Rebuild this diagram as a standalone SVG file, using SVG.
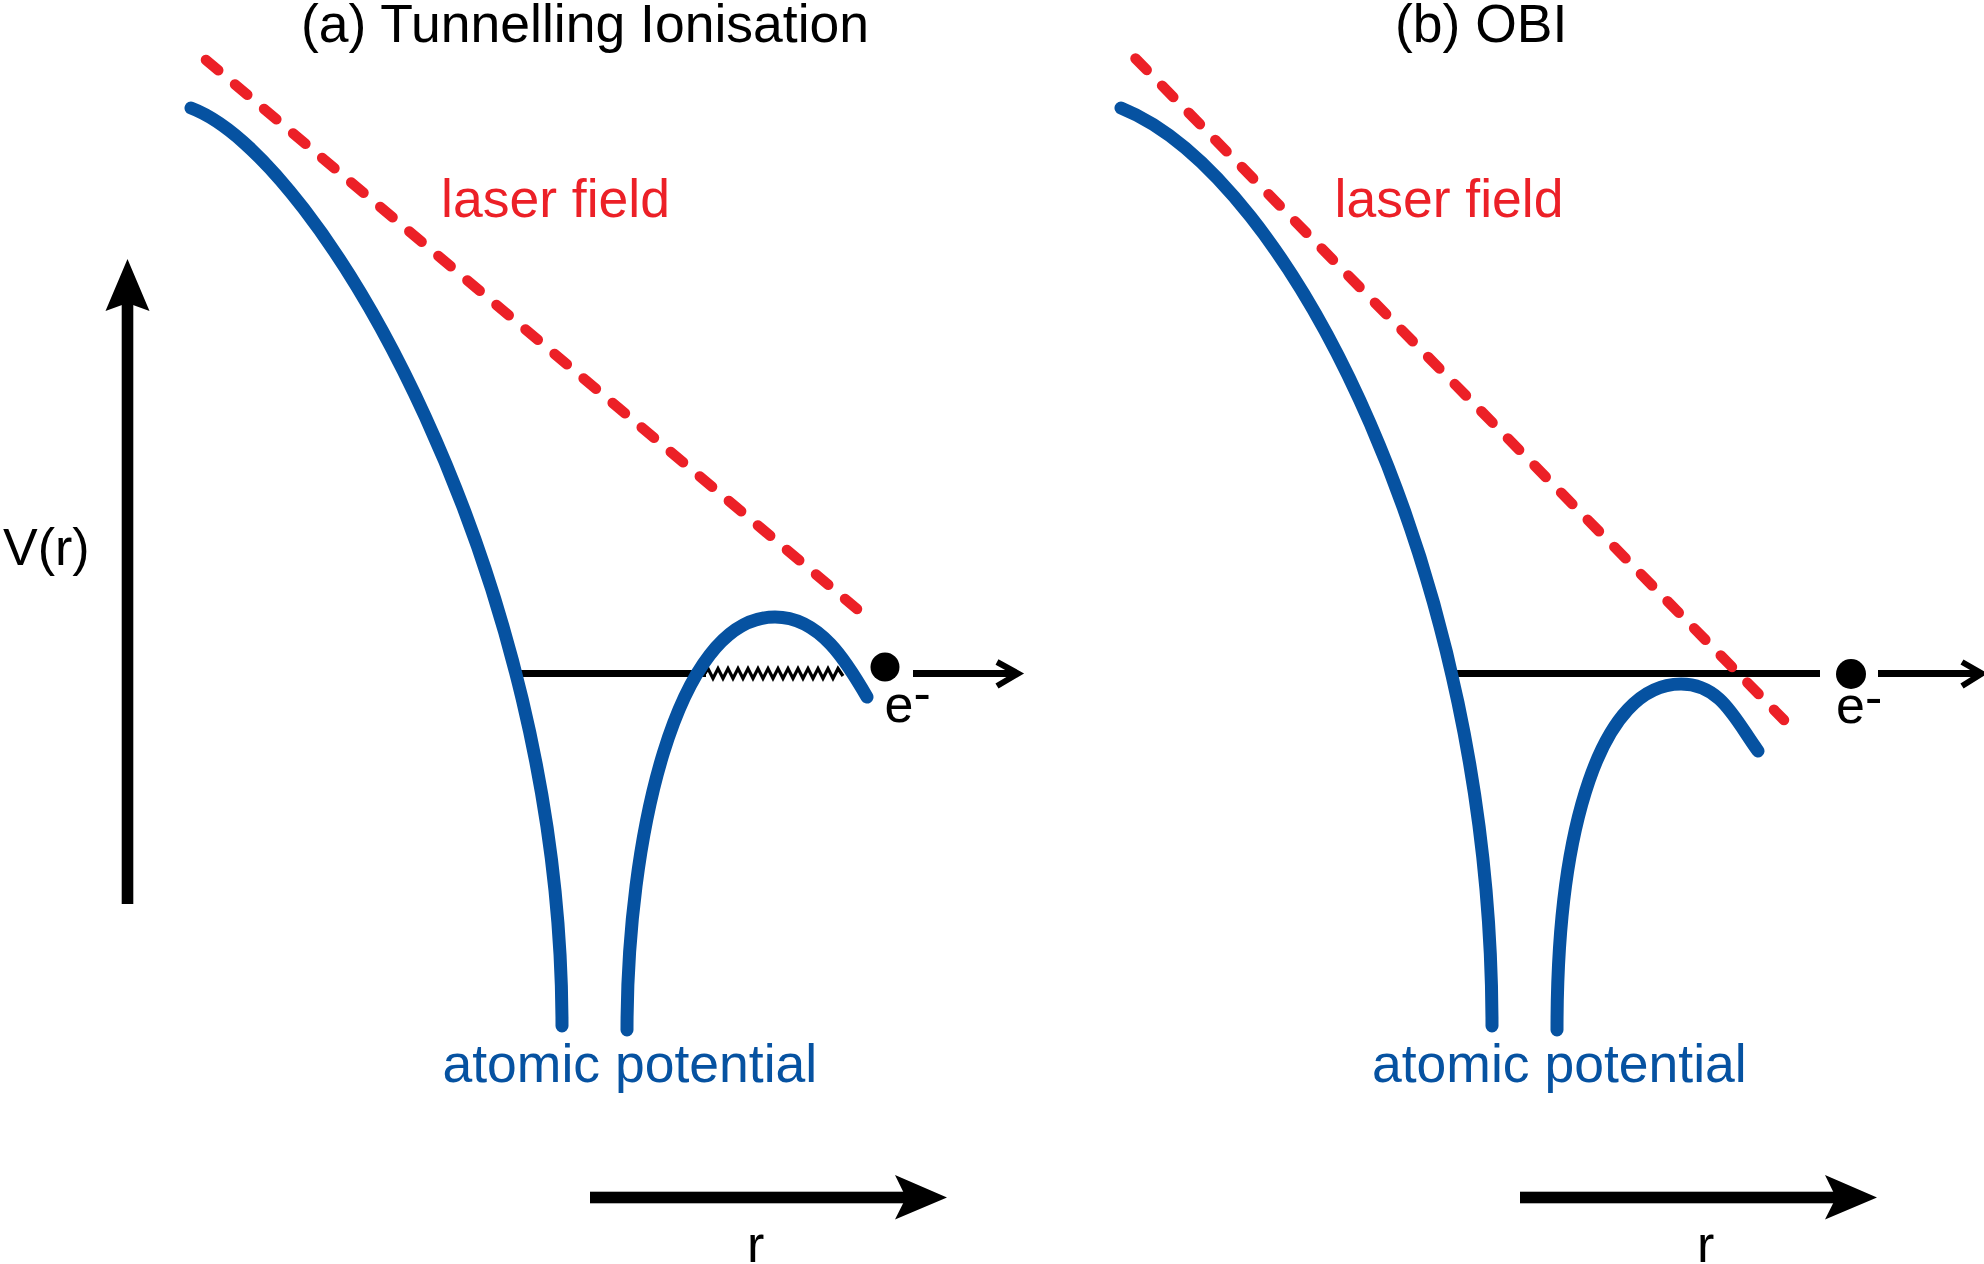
<svg xmlns="http://www.w3.org/2000/svg" width="1984" height="1264" viewBox="0 0 1984 1264">
<style>
text{font-family:"Liberation Sans",Arial,Helvetica,sans-serif;font-size:52px}
.lab{font-size:53.5px}
.k{fill:#000}
.bt{fill:#0652A1}
.rt{fill:#EC2027}
.pot{fill:none;stroke:#0652A1;stroke-width:13;stroke-linecap:round;stroke-linejoin:round}
.las{fill:none;stroke:#EC2027;stroke-width:10.5;stroke-linecap:round;stroke-dasharray:16 22}
.lvl{fill:none;stroke:#000;stroke-width:7}
.zz{fill:none;stroke:#000;stroke-width:3.2;stroke-linejoin:miter}
.chev{fill:none;stroke:#000;stroke-width:6;stroke-linejoin:miter}
</style>
<rect width="1984" height="1264" fill="#fff"/>

<g id="axis-V">
<rect x="121.7" y="300" width="11.6" height="604" class="k"/>
<polygon points="127.5,259 149.5,311 127.5,303 105.5,311" class="k"/>
<text x="3" y="565" class="k">V(r)</text>
</g>

<g id="panel-a">
<text id="title-a" x="301" y="42" class="k lab">(a) Tunnelling Ionisation</text>
<g id="level-a">
<line x1="517" y1="673.5" x2="706" y2="673.5" class="lvl"/>
<polyline class="zz" points="705,673.5 708,668.5 713,678.5 718,668.5 723,678.5 728,668.5 733,678.5 738,668.5 743,678.5 748,668.5 753,678.5 758,668.5 763,678.5 768,668.5 773,678.5 778,668.5 783,678.5 788,668.5 793,678.5 798,668.5 803,678.5 808,668.5 813,678.5 818,668.5 823,678.5 828,668.5 833,678.5 838,668.5 843,676"/>
</g>
<g id="potential-a">
<path class="pot" d="M191,108 C321,157 562,576 562,1026"/>
<path class="pot" d="M627,1030 C627,841 675,617 775,617 C820,617 847,662.4 867,697"/>
<text x="442.5" y="1082" class="bt lab">atomic potential</text>
</g>
<g id="laser-a">
<path class="las" d="M206,60 L857,609"/>
<text x="441" y="217" class="rt lab">laser field</text>
</g>
<g id="electron-a">
<circle cx="885" cy="667" r="14.5" class="k"/>
<text x="884.5" y="722" class="k">e<tspan dy="-11">-</tspan></text>
</g>
<g id="r-axis-a">
<rect x="590" y="1191.7" width="317" height="11.6" class="k"/>
<polygon points="947,1197.5 895,1175 906,1197.5 895,1219.5" class="k"/>
<text x="747" y="1262" class="k">r</text>
</g>
</g>

<g id="panel-b">
<text id="title-b" x="1395" y="42" class="k lab">(b) OBI</text>
<g id="level-b">
<line x1="1450" y1="673.5" x2="1820" y2="673.5" class="lvl"/>
</g>
<g id="potential-b">
<path class="pot" d="M1121,108 C1291,176 1492,576 1492,1026"/>
<path class="pot" d="M1557,1030 C1557,827 1601,684 1681,684 C1721,684 1735.3,719.8 1758,751"/>
<text x="1372" y="1082" class="bt lab">atomic potential</text>
</g>
<g id="laser-b">
<path class="las" d="M1135.5,58.5 L1784,720"/>
<text x="1334.5" y="217" class="rt lab">laser field</text>
</g>
<g id="electron-b">
<circle cx="1851" cy="674" r="15" class="k"/>
<text x="1836" y="723" class="k">e<tspan dy="-8">-</tspan></text>
</g>
<g id="r-axis-b">
<rect x="1520" y="1191.7" width="317" height="11.6" class="k"/>
<polygon points="1877,1197.5 1825,1175 1836,1197.5 1825,1219.5" class="k"/>
<text x="1697" y="1262" class="k">r</text>
</g>
</g>

<g id="connectors">
<line x1="913" y1="673.5" x2="1016" y2="673.5" class="lvl"/>
<polyline points="997,662 1018,673.5 997,686" class="chev"/>
<line x1="1878" y1="673.5" x2="1980" y2="673.5" class="lvl"/>
<polyline points="1962,662 1982,673.5 1962,686" class="chev"/>
</g>
</svg>
